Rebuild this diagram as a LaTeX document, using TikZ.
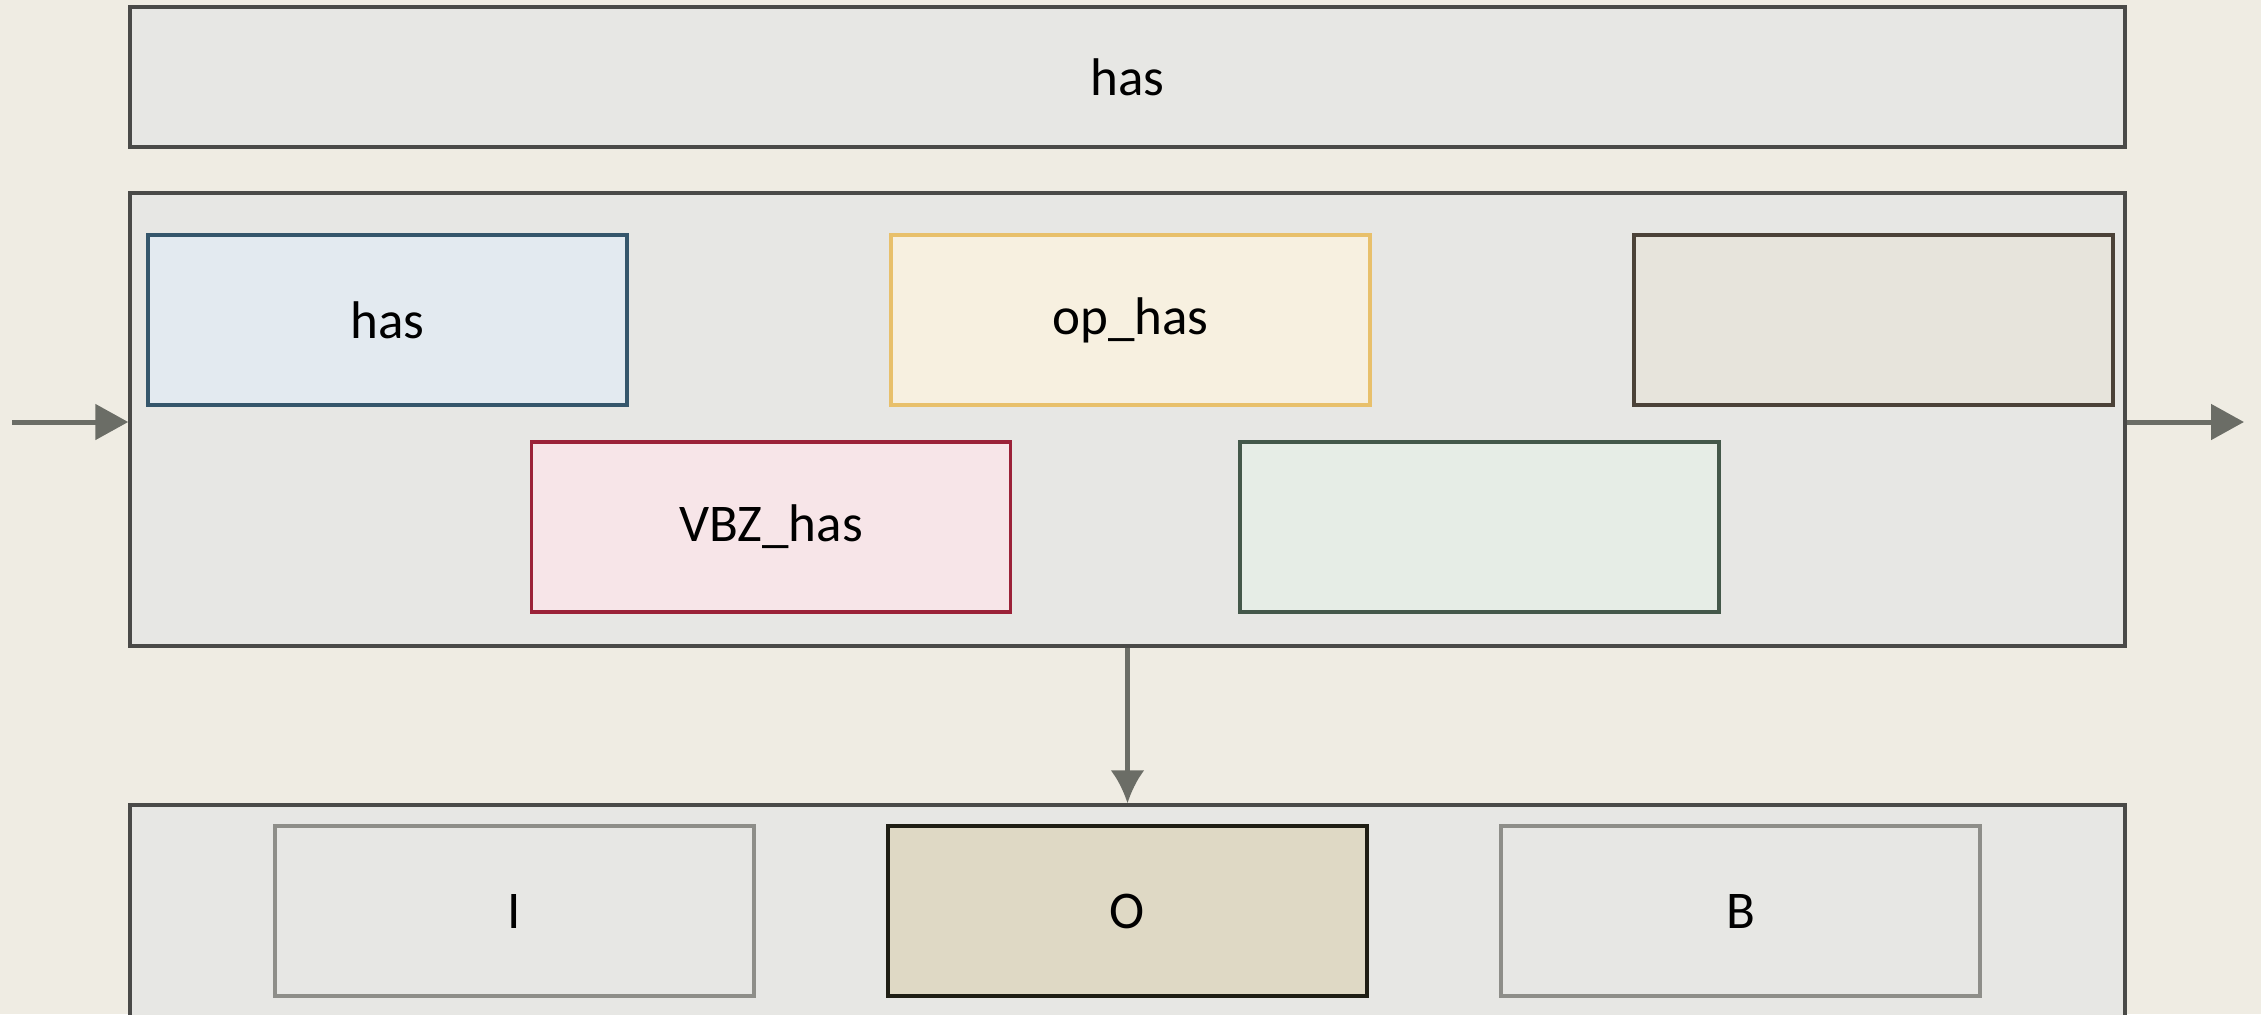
\documentclass[tikz,border=0pt]{standalone}
\usepackage{fontspec}
\setmainfont{Carlito}
\usepackage{xcolor}
\usetikzlibrary{arrows.meta, positioning}

\definecolor{bgcol}{HTML}{EFECE3}
\definecolor{panelfill}{HTML}{E7E7E4}
\definecolor{paneldraw}{HTML}{4A4A48}
\definecolor{arrowcol}{HTML}{6B6D66}
\definecolor{bluedraw}{HTML}{35566B}
\definecolor{bluefill}{HTML}{E3EAF0}
\definecolor{golddraw}{HTML}{E8C06B}
\definecolor{goldfill}{HTML}{F7F0E0}
\definecolor{browndraw}{HTML}{4B4238}
\definecolor{brownfill}{HTML}{E7E4DC}
\definecolor{reddraw}{HTML}{9B2238}
\definecolor{redfill}{HTML}{F7E5E8}
\definecolor{greendraw}{HTML}{44584A}
\definecolor{greenfill}{HTML}{E6EDE6}
\definecolor{greydraw}{HTML}{8E8E89}
\definecolor{tandraw}{HTML}{1F1E14}
\definecolor{tanfill}{HTML}{DFD9C5}

\tikzset{
    x=0.5pt, y=-0.5pt,                         % one unit is one pixel of the reference
    panel/.style={draw=paneldraw, fill=panelfill, line width=1.75pt,
                  minimum width=997.5pt},      % the three wide frames
    tagbox/.style 2 args={draw=#1, fill=#2, line width=1.75pt,
                   minimum width=239.5pt, minimum height=85pt},
    flow/.style={draw=arrowcol, line width=2.5pt,
                 -{Triangle[length=16.5pt, width=17.5pt]}},
    every node/.style={font=\fontsize{26.5}{31}\selectfont, inner sep=0pt},
}

\begin{document}
\begin{tikzpicture}

\clip (0,0) rectangle (2261,1014);
\fill[bgcol] (0,0) rectangle (2261,1014);

% frames
\node[panel, minimum height=70pt] (word) at (1127.5,77) {has};
\node[panel, minimum height=226.5pt] (feats) at (1127.5,419.5) {};
\node[panel, minimum height=147.5pt] (tags) at (1127.5,952.5) {};

% features
\node[tagbox={bluedraw}{bluefill}] (f1) at (387.5,320) {has};
\node[tagbox={golddraw}{goldfill}] (f2) at (1130.5,320) {op\_has};
\node[tagbox={browndraw}{brownfill}] (f3) at (1873.5,320) {};
\node[tagbox={reddraw}{redfill}] (f4) at (771,527) {VBZ\_has};
\node[tagbox={greendraw}{greenfill}] (f5) at (1479.5,527) {};

% labels
\node[tagbox={greydraw}{panelfill}] (tI) at (514.5,911) {I};
\node[tagbox={tandraw}{tanfill}] (tO) at (1127.5,911) {O};
\node[tagbox={greydraw}{panelfill}] (tB) at (1740.5,911) {B};

\coordinate (in) at (12,422);
\coordinate (out) at (2244,422);

\draw[flow] (in) -- (in -| feats.west);
\draw[flow] (out -| feats.east) -- (out);
\draw[flow, line width=2.25pt, -{Latex[length=16.5pt, width=17pt]}] (feats.south) -- (tags.north);

\end{tikzpicture}
\end{document}
